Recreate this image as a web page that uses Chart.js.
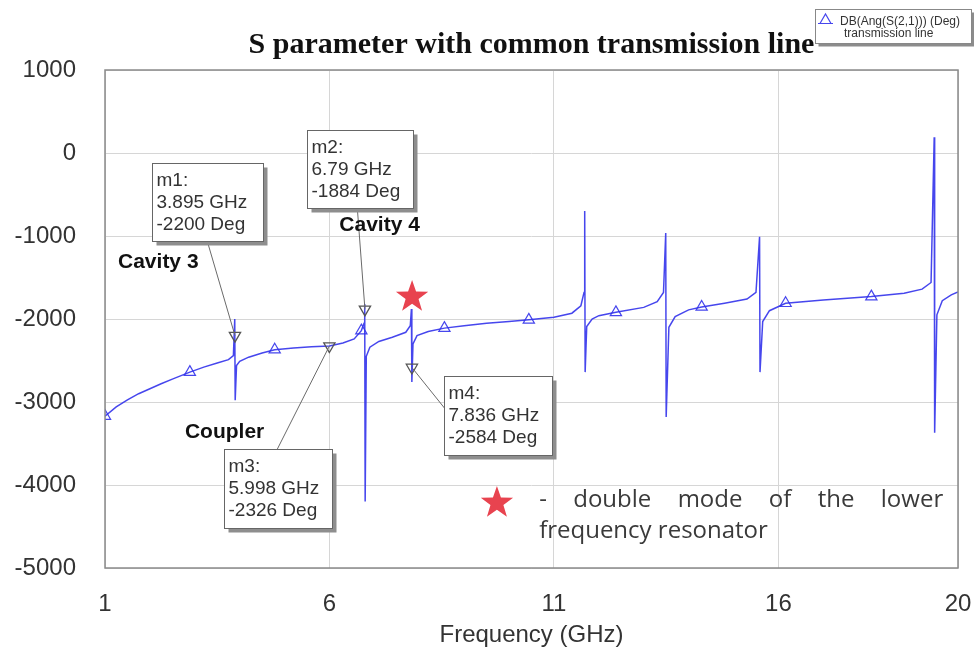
<!DOCTYPE html>
<html lang="en">
<head>
<meta charset="UTF-8">
<title>S parameter with common transmission line</title>
<style>
  body { margin: 0; background: #fff; }
  canvas { display: block; }
</style>
<script src="https://cdn.jsdelivr.net/npm/chart.js"></script>
</head>
<body>
<canvas id="chart" width="974" height="654"></canvas>
<script>
// trace: DB(Ang(S(2,1))) (Deg) vs frequency (GHz)
const freq = [
  1.00, 1.25, 1.50, 1.75, 2.00, 2.25, 2.50, 2.89, 3.20, 3.50, 3.75, 3.86,
  3.89, 3.90, 3.93, 4.00, 4.20, 4.50, 4.78, 5.20, 5.60, 5.998, 6.30, 6.55,
  6.71, 6.77, 6.785, 6.795, 6.82, 6.90, 7.10, 7.40, 7.70, 7.80, 7.825, 7.835,
  7.86, 7.95, 8.20, 8.56, 9.00, 9.50, 10.00, 10.44, 11.00, 11.40, 11.60, 11.67,
  11.685, 11.695, 11.73, 11.85, 12.00, 12.38, 13.00, 13.30, 13.44, 13.49, 13.50, 13.56,
  13.70, 14.00, 14.29, 14.80, 15.30, 15.50, 15.58, 15.59, 15.65, 15.80, 16.16, 17.00,
  18.07, 18.80, 19.20, 19.40, 19.47, 19.48, 19.53, 19.65, 19.85, 20.00
];
const phase = [
  -3170, -3060, -2975, -2900, -2840, -2780, -2725, -2640, -2580, -2530, -2490, -2440,
  -2000, -2980, -2560, -2510, -2460, -2410, -2370, -2350, -2335, -2326, -2290, -2240,
  -2140, -2050, -1820, -4200, -2450, -2340, -2270, -2220, -2160, -2080, -1880, -2760,
  -2300, -2200, -2150, -2110, -2080, -2050, -2030, -2010, -1980, -1930, -1840, -1680,
  -700, -2640, -2090, -2000, -1960, -1920, -1860, -1790, -1680, -965, -3180, -2100,
  -1970, -1890, -1855, -1810, -1760, -1680, -1010, -2640, -2030, -1900, -1810, -1770,
  -1730, -1690, -1640, -1560, 190, -3370, -1950, -1780, -1710, -1675
];

// triangle symbols placed along the trace
const symFreq = [1.00, 2.89, 4.78, 6.71, 8.56, 10.44, 12.38, 14.29, 16.16, 18.07];
const symPhase = [-3170, -2640, -2370, -2140, -2110, -2010, -1920, -1855, -1810, -1730];

// markers
const markerNames = ['m1', 'm2', 'm3', 'm4'];
const markerFreq = [3.895, 6.79, 5.998, 7.836];
const markerPhase = [-2200, -1884, -2326, -2584];

const xTicks = [1, 6, 11, 16, 20];

const traceColor = 'rgba(50, 50, 235, 0.9)';
const textColor = '#333';
const sans = '"Liberation Sans", Arial, sans-serif';

// marker boxes: top-left corner in data units, leader start in data units
const boxes = [
  { m: 0, x: 2.04, y: -120, w: 111, h: 78, lx: 3.27, ly: -1048 },
  { m: 1, x: 5.49, y: 277, w: 106, h: 78, lx: 6.62, ly: -663 },
  { m: 2, x: 3.64, y: -3566, w: 108, h: 79, lx: 4.84, ly: -3566 },
  { m: 3, x: 8.56, y: -2687, w: 108, h: 79, lx: 8.56, ly: -3072 }
];
const notes = [
  { text: 'Cavity 3', x: 1.29, y: -1313 },
  { text: 'Cavity 4', x: 6.22, y: -867 },
  { text: 'Coupler', x: 2.78, y: -3361 }
];
const stars = [{ x: 7.84, y: -1735 }, { x: 9.73, y: -4217 }];

function drawStar(ctx, cx, cy, r) {
  ctx.beginPath();
  for (let i = 0; i < 10; i++) {
    const rad = i % 2 ? r * 0.4 : r;
    const a = -Math.PI / 2 + i * Math.PI / 5;
    ctx.lineTo(cx + Math.cos(a) * rad, cy + Math.sin(a) * rad);
  }
  ctx.closePath();
  ctx.fillStyle = '#e8434f';
  ctx.fill();
}

const overlay = {
  id: 'overlay',
  afterDatasetsDraw(chart) {
    const { ctx, chartArea: a, scales: { x, y } } = chart;
    ctx.save();

    // plot frame
    ctx.strokeStyle = '#8a8a8a';
    ctx.lineWidth = 1.5;
    ctx.strokeRect(a.left, a.top, a.right - a.left, a.bottom - a.top);

    // leader lines + marker boxes
    boxes.forEach(b => {
      const mx = x.getPixelForValue(markerFreq[b.m]);
      const my = y.getPixelForValue(markerPhase[b.m]);
      ctx.strokeStyle = '#6a6a6a';
      ctx.lineWidth = 1;
      ctx.beginPath();
      ctx.moveTo(x.getPixelForValue(b.lx), y.getPixelForValue(b.ly));
      ctx.lineTo(mx, my);
      ctx.stroke();

      const bx = Math.round(x.getPixelForValue(b.x)) + 0.5;
      const by = Math.round(y.getPixelForValue(b.y)) + 0.5;
      ctx.fillStyle = '#8e8e8e';
      ctx.fillRect(bx + 4, by + 4, b.w, b.h);
      ctx.fillStyle = '#fff';
      ctx.fillRect(bx, by, b.w, b.h);
      ctx.strokeStyle = '#666';
      ctx.strokeRect(bx, by, b.w, b.h);

      ctx.fillStyle = textColor;
      ctx.font = '19px ' + sans;
      ctx.textAlign = 'left';
      ctx.textBaseline = 'middle';
      const lines = [markerNames[b.m] + ':', markerFreq[b.m] + ' GHz', markerPhase[b.m] + ' Deg'];
      lines.forEach((t, k) => ctx.fillText(t, bx + 4, by + 17 + k * 22));
    });

    // bold notes
    ctx.font = 'bold 21px ' + sans;
    ctx.fillStyle = '#111';
    notes.forEach(n => ctx.fillText(n.text, x.getPixelForValue(n.x), y.getPixelForValue(n.y)));

    // stars
    stars.forEach(s => drawStar(ctx, x.getPixelForValue(s.x), y.getPixelForValue(s.y), 17));

    // star explanation, first line justified
    ctx.font = '24px "Open Sans", sans-serif';
    ctx.fillStyle = '#3a3a3a';
    const words = ['-', 'double', 'mode', 'of', 'the', 'lower'];
    const x0 = x.getPixelForValue(10.67), x1 = x.getPixelForValue(19.67);
    const total = words.reduce((s, w) => s + ctx.measureText(w).width, 0);
    const gap = (x1 - x0 - total) / (words.length - 1);
    let cx = x0;
    const ly1 = y.getPixelForValue(-4181);
    words.forEach(w => { ctx.fillText(w, cx, ly1); cx += ctx.measureText(w).width + gap; });
    ctx.fillText('frequency resonator', x0, y.getPixelForValue(-4554));

    ctx.restore();
  },
  afterDraw(chart) {
    const { ctx, chartArea: a } = chart;
    ctx.save();
    // title
    ctx.font = 'bold 30px "Liberation Serif", "Times New Roman", serif';
    ctx.fillStyle = '#111';
    ctx.textAlign = 'center';
    ctx.textBaseline = 'middle';
    ctx.fillText('S parameter with common transmission line', (a.left + a.right) / 2, 45);

    // legend box
    const lx = 815.5, ly = 9.5, lw = 156, lh = 34;
    ctx.fillStyle = '#8c8c8c';
    ctx.fillRect(lx + 3, ly + 3, lw, lh);
    ctx.fillStyle = '#fff';
    ctx.fillRect(lx, ly, lw, lh);
    ctx.strokeStyle = '#888';
    ctx.lineWidth = 1;
    ctx.strokeRect(lx, ly, lw, lh);
    ctx.strokeStyle = traceColor;
    ctx.lineWidth = 1.2;
    ctx.beginPath();
    ctx.moveTo(818, 23.5); ctx.lineTo(833, 23.5);
    ctx.moveTo(820, 23.5); ctx.lineTo(825.5, 14); ctx.lineTo(831, 23.5);
    ctx.stroke();
    ctx.fillStyle = textColor;
    ctx.font = '12px ' + sans;
    ctx.textAlign = 'left';
    ctx.fillText('DB(Ang(S(2,1))) (Deg)', 840, 22);
    ctx.fillText('transmission line', 844, 34);
    ctx.restore();
  }
};

new Chart(document.getElementById('chart'), {
  type: 'scatter',
  data: {
    datasets: [
      {
        label: 'markers',
        data: markerFreq.map((f, i) => ({ x: f, y: markerPhase[i] })),
        pointStyle: 'triangle',
        rotation: 180,
        pointRadius: 6.5,
        borderColor: '#555',
        borderWidth: 1.3,
        backgroundColor: 'rgba(0,0,0,0)'
      },
      {
        label: 'symbols',
        data: symFreq.map((f, i) => ({ x: f, y: symPhase[i] })),
        pointStyle: 'triangle',
        pointRadius: 6.5,
        borderColor: traceColor,
        borderWidth: 1.2,
        backgroundColor: 'rgba(0,0,0,0)'
      },
      {
        label: 'DB(Ang(S(2,1))) (Deg)',
        data: freq.map((f, i) => ({ x: f, y: phase[i] })),
        showLine: true,
        borderColor: traceColor,
        borderWidth: 1.5,
        pointRadius: 0,
        tension: 0
      }
    ]
  },
  options: {
    responsive: false,
    animation: false,
    layout: { padding: { top: 70, right: 16, left: 0, bottom: 0 } },
    plugins: { legend: { display: false }, tooltip: { enabled: false } },
    scales: {
      x: {
        type: 'linear',
        min: 1,
        max: 20,
        afterBuildTicks: s => { s.ticks = xTicks.map(v => ({ value: v })); },
        afterFit: s => { s.height = 86; s.paddingLeft = 0; s.paddingRight = 0; },
        grid: { color: '#d6d6d6', drawTicks: false },
        border: { display: false },
        ticks: { padding: 22, color: textColor, font: { family: sans, size: 24 } },
        title: {
          display: true,
          text: 'Frequency (GHz)',
          color: textColor,
          padding: { top: 0, bottom: 4 },
          font: { family: sans, size: 24 }
        }
      },
      y: {
        min: -5000,
        max: 1000,
        afterFit: s => { s.width = 105; s.paddingTop = 0; s.paddingBottom = 0; },
        grid: { color: '#d6d6d6', drawTicks: false },
        border: { display: false },
        ticks: {
          stepSize: 1000,
          padding: 29,
          color: textColor,
          font: { family: sans, size: 24 },
          callback: v => String(v)
        }
      }
    }
  },
  plugins: [overlay]
});
</script>
</body>
</html>
